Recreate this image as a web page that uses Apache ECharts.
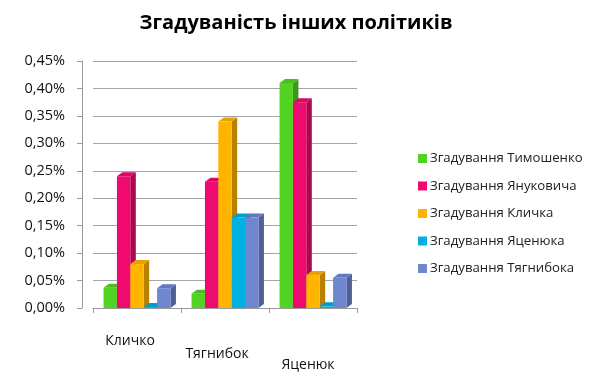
<!DOCTYPE html>
<html><head><meta charset="utf-8">
<script src="https://cdn.jsdelivr.net/npm/echarts@6/dist/echarts.min.js"></script>
<style>html,body{margin:0;padding:0;background:#fff}#c{width:592px;height:379px}</style>
</head><body><div id="c"></div>
<script>
const categories = ['Кличко', 'Тягнибок', 'Яценюк'];
const seriesNames = ['Згадування Тимошенко', 'Згадування Януковича', 'Згадування Кличка', 'Згадування Яценюка', 'Згадування Тягнибока'];
const tymoshenko = [0.037, 0.026, 0.41];
const yanukovych = [0.24, 0.23, 0.375];
const klychko = [0.08, 0.34, 0.06];
const yatsenyuk = [0.002, 0.165, 0.003];
const tyahnybok = [0.036, 0.165, 0.055];
const colors = ['#52d321', '#ef0a6f', '#ffb400', '#00b0e0', '#6f86d0'];
const allValues = [tymoshenko, yanukovych, klychko, yatsenyuk, tyahnybok];

const FONT = '"Open Sans", "Noto Sans", sans-serif';
const chart = echarts.init(document.getElementById('c'));

function shade(c, f) {
  const a = echarts.color.parse(c);
  return 'rgb(' + Math.round(a[0] * f) + ',' + Math.round(a[1] * f) + ',' + Math.round(a[2] * f) + ')';
}

function renderItem(params, api) {
  const cat = api.value(0), val = api.value(1);
  const base = api.coord([cat, 0]);
  const top = api.coord([cat, val]);
  const band = api.size([1, 0])[0];
  const groupW = band * 0.76;
  const bw = groupW / 5;
  const x = base[0] - groupW / 2 + params.seriesIndex * bw;
  const dx = 5.5, dy = 4;
  const c = colors[params.seriesIndex];
  const side = shade(c, 0.72);
  const topC = shade(c, 0.9);
  const h = Math.max(base[1] - top[1], 1);
  const ty = base[1] - h;
  return {
    type: 'group',
    children: [
      { type: 'polygon', shape: { points: [[x + bw, ty], [x + bw + dx, ty - dy], [x + bw + dx, base[1] - dy], [x + bw, base[1]]] }, style: { fill: side } },
      { type: 'polygon', shape: { points: [[x, ty], [x + dx, ty - dy], [x + bw + dx, ty - dy], [x + bw, ty]] }, style: { fill: topC } },
      { type: 'rect', shape: { x: x, y: ty, width: bw, height: h }, style: { fill: c } }
    ]
  };
}

const series = seriesNames.map((name, i) => ({
  name: name,
  type: 'custom',
  renderItem: renderItem,
  itemStyle: { color: colors[i] },
  encode: { x: 0, y: 1 },
  data: allValues[i].map((v, k) => [k, v])
}));

const labelRich = {};
[[26, 14], [39, 16], [50, 10]].forEach((p, i) => {
  labelRich['l' + i] = { padding: [p[0], p[1], 0, 0], fontFamily: FONT, fontSize: 14, color: '#111' };
});

chart.setOption({
  animation: false,
  backgroundColor: '#fff',
  title: {
    text: 'Згадуваність інших політиків',
    left: 'center', top: 8,
    textStyle: { fontFamily: FONT, fontSize: 20, fontWeight: 'bold', color: '#000' }
  },
  legend: {
    orient: 'vertical', left: 413, top: 147,
    itemWidth: 9, itemHeight: 9, itemGap: 14.5, icon: 'rect',
    textStyle: { fontFamily: FONT, fontSize: 13.2, color: '#222', padding: [0, 0, 0, -2] },
    data: seriesNames
  },
  grid: { left: 93, right: 235, top: 61, bottom: 71 },
  xAxis: {
    type: 'category', data: categories,
    axisLine: { show: true, lineStyle: { color: '#9a9a9a' } },
    axisTick: { show: true, lineStyle: { color: '#9a9a9a' } },
    axisLabel: {
      interval: 0, hideOverlap: false,
      fontFamily: FONT, fontSize: 14, color: '#111', margin: 0,
      formatter: (v, i) => '{l' + i + '|' + v + '}',
      rich: labelRich
    }
  },
  yAxis: {
    type: 'value', min: 0, max: 0.45, interval: 0.05, offset: 11,
    axisLine: { show: true, lineStyle: { color: '#9a9a9a' } },
    axisTick: { show: true, length: 5, lineStyle: { color: '#9a9a9a' } },
    splitLine: { show: true, lineStyle: { color: '#a6a6a6' } },
    axisLabel: {
      fontFamily: FONT, fontSize: 14.5, color: '#111', margin: 17,
      formatter: v => v.toFixed(2).replace('.', ',') + '%'
    }
  },
  series: series
});
</script></body></html>
